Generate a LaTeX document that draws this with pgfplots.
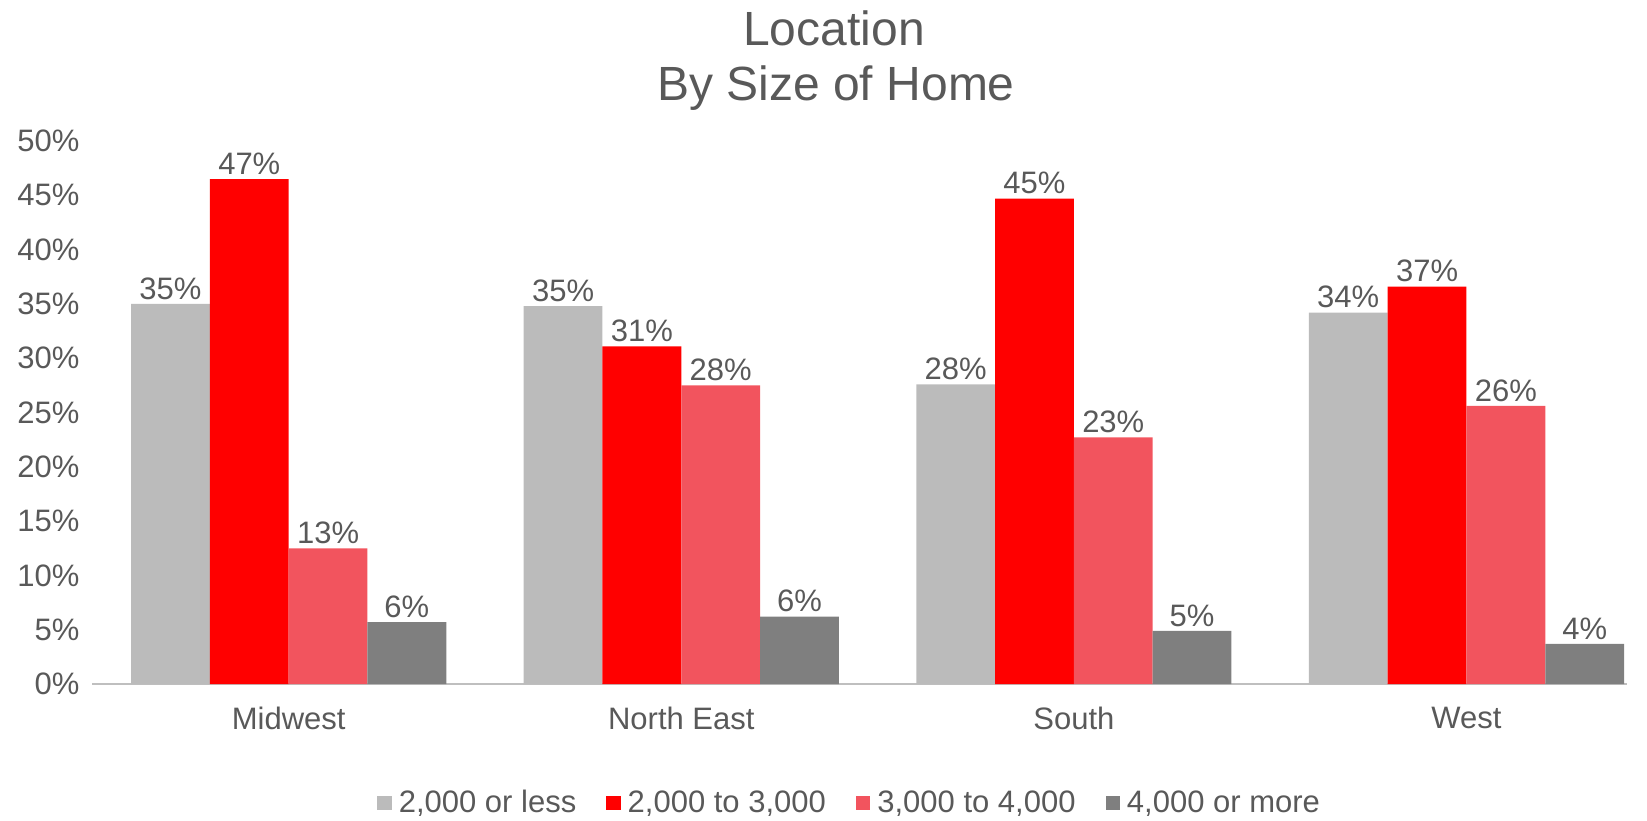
\documentclass[border=0pt]{standalone}
\usepackage{pgfplots}
\pgfplotsset{compat=1.18}
\usepackage{pgfplotstable}
\usepackage{fontspec}
\setmainfont{Liberation Sans}
\definecolor{txt}{HTML}{595959}
\definecolor{cA}{HTML}{BBBBBB}
\definecolor{cB}{HTML}{FF0000}
\definecolor{cC}{HTML}{F2545E}
\definecolor{cD}{HTML}{7F7F7F}
\definecolor{axl}{HTML}{BFBFBF}
\pgfplotstableread{
x y label
0 35.0 35
1 34.8 35
2 27.6 28
3 34.2 34
}\sA
\pgfplotstableread{
x y label
0 46.5 47
1 31.1 31
2 44.7 45
3 36.6 37
}\sB
\pgfplotstableread{
x y label
0 12.5 13
1 27.5 28
2 22.7 23
3 25.6 26
}\sC
\pgfplotstableread{
x y label
0 5.7 6
1 6.2 6
2 4.9 5
3 3.7 4
}\sD
\begin{document}
\begin{tikzpicture}[font=\fontsize{15.5}{18}\selectfont, text=txt]
\useasboundingbox (0,0) rectangle (823.5pt,410pt);
\node[font=\fontsize{24}{28}\selectfont, text=txt] at (417pt,396pt) {Location};
\node[font=\fontsize{24}{28}\selectfont, text=txt] at (418pt,366pt) {By Size of Home};
\begin{axis}[
  at={(46.2pt,68pt)}, anchor=south west,
  scale only axis,
  width=767.5pt, height=271.5pt,
  xmin=-0.5, xmax=3.41,
  ymin=0, ymax=50,
  ybar=0pt, bar width=39.4pt,
  axis x line*=bottom, axis y line*=left,
  y axis line style={draw=none},
  x axis line style={draw=axl, line width=1.2pt},
  major tick length=0pt,
  xtick={0,1,2,3},
  xticklabels={Midwest,North East,South,West},
  ytick={0,5,...,50},
  yticklabel={\pgfmathprintnumber{\tick}\%},
  /pgf/number format/assume math mode=true,
  ticklabel style={font=\fontsize{15.5}{18}\selectfont, text=txt},
  xticklabel style={yshift=-8pt},
  yticklabel style={xshift=-3pt},
  nodes near coords={\pgfplotspointmeta\%},
  point meta=explicit symbolic,
  every node near coord/.append style={font=\fontsize{15.5}{18}\selectfont, text=txt, inner sep=2pt},
  legend style={at={(axis description cs:0.494,-0.219)}, anchor=center, draw=none, fill=none,
    legend columns=-1, font=\fontsize{15.5}{18}\selectfont, text=txt,
    /tikz/every odd column/.append style={column sep=1.5pt},
    /tikz/every even column/.append style={column sep=13pt}},
  legend image code/.code={\fill[#1] (0pt,-3.6pt) rectangle (7.2pt,3.6pt);},
  legend cell align=left,
]
\addplot[fill=cA, draw=none] table[x=x,y=y,meta=label]{\sA};
\addplot[fill=cB, draw=none] table[x=x,y=y,meta=label]{\sB};
\addplot[fill=cC, draw=none] table[x=x,y=y,meta=label]{\sC};
\addplot[fill=cD, draw=none] table[x=x,y=y,meta=label]{\sD};
\legend{{2,000 or less},{2,000 to 3,000},{3,000 to 4,000},{4,000 or more}}
\end{axis}
\end{tikzpicture}
\end{document}
